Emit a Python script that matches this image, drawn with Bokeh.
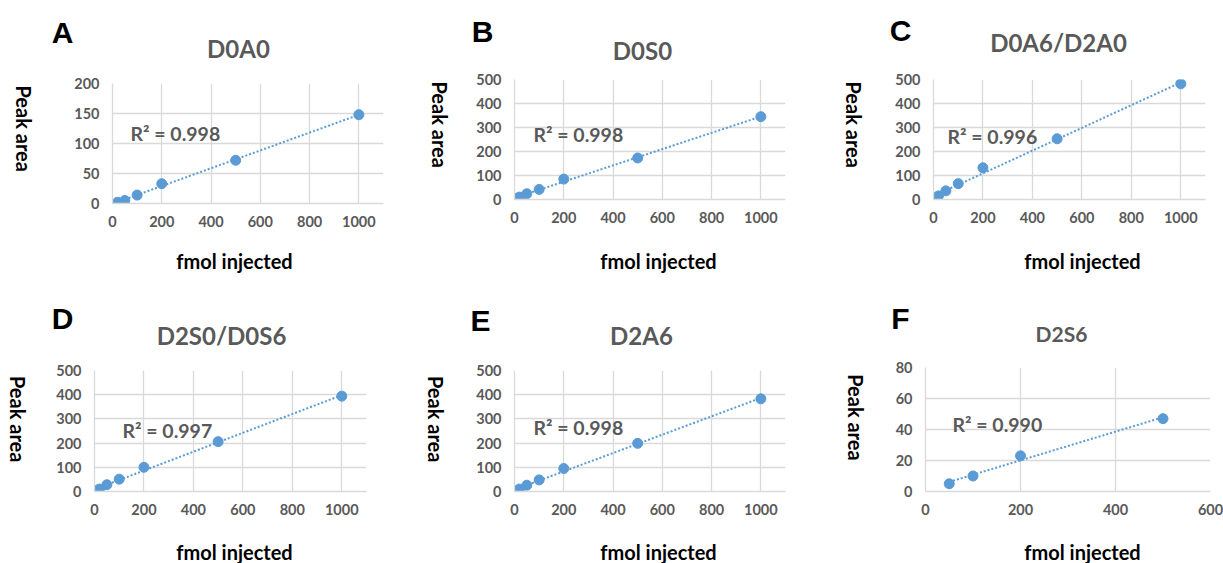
import math
import numpy as np
from bokeh.plotting import figure
from bokeh.layouts import row, column
from bokeh.models import Range1d, FixedTicker, Label
from bokeh.embed import file_html
from bokeh.resources import INLINE

# ---------------- data ----------------
letters = ["A", "B", "C", "D", "E", "F"]
titles = ["D0A0", "D0S0", "D0A6/D2A0", "D2S0/D0S6", "D2A6", "D2S6"]
r2_labels = ["R² = 0.998", "R² = 0.998", "R² = 0.996", "R² = 0.997", "R² = 0.998", "R² = 0.990"]
x_title = "fmol injected"
y_title = "Peak area"

x_A = [20, 50, 100, 200, 500, 1000]
y_A = [2, 5, 14, 33, 72, 148]
x_B = [10, 20, 50, 100, 200, 500, 1000]
y_B = [4, 10, 24, 42, 85, 173, 345]
x_C = [10, 20, 50, 100, 200, 500, 1000]
y_C = [6, 15, 36, 66, 132, 253, 482]
x_D = [10, 20, 50, 100, 200, 500, 1000]
y_D = [4, 10, 28, 51, 100, 206, 394]
x_E = [10, 20, 50, 100, 200, 500, 1000]
y_E = [3, 10, 26, 48, 95, 199, 383]
x_F = [50, 100, 200, 500]
y_F = [5, 10, 23, 47]

xs = [x_A, x_B, x_C, x_D, x_E, x_F]
ys = [y_A, y_B, y_C, y_D, y_E, y_F]

x_ticks_1000 = [0, 200, 400, 600, 800, 1000]
x_ticks_600 = [0, 200, 400, 600]
y_ticks_200 = [0, 50, 100, 150, 200]
y_ticks_500 = [0, 100, 200, 300, 400, 500]
y_ticks_80 = [0, 20, 40, 60, 80]

x_ticks = [x_ticks_1000] * 5 + [x_ticks_600]
x_max = [1100, 1100, 1100, 1100, 1100, 600]
y_ticks = [y_ticks_200, y_ticks_500, y_ticks_500, y_ticks_500, y_ticks_500, y_ticks_80]

# ---------------- layout (page pixels) ----------------
# (offset_x, offset_y, width, height, frame_left, frame_top, frame_right, frame_bottom)
panels = [
    (0, 0, 407, 280, 112, 83, 383, 203),
    (407, 0, 408, 280, 514, 79, 785, 199),
    (815, 0, 408, 280, 933, 79, 1205, 199),
    (0, 280, 407, 283, 94, 370, 366, 491),
    (407, 280, 408, 283, 514, 370, 785, 491),
    (815, 280, 408, 283, 925, 367, 1210, 491),
]
header_h = [66, 66, 66, 73, 73, 73]
left_w = 52
footer_h = 36

letter_pos = [(62, 32), (482, 31), (900, 30), (62, 318), (480, 320), (900, 318)]
title_pos = [(238, 48), (642, 50), (1058, 42), (221, 335), (641, 335), (1061, 333)]
title_size = ["24px", "24px", "24px", "24px", "24px", "21px"]
ylab_pos = [(23, 133), (439, 133), (853, 133), (17, 423), (435, 423), (855, 423)]
xlab_pos = [(234, 260), (658, 260), (1082, 260), (234, 551), (658, 551), (1082, 551)]
r2_pos = [(130, 133), (533, 134), (947, 136), (122, 430), (533, 427), (952, 424)]

BLUE = "#5B9BD5"
GRID = "#D9D9D9"
GRAY = "#595959"
FONT = "Lato"


def blank(w, h):
    f = figure(width=w, height=h, output_backend="svg", toolbar_location=None,
               x_range=Range1d(0, w), y_range=Range1d(0, h),
               x_axis_location=None, y_axis_location=None, min_border=0)
    f.outline_line_color = None
    f.grid.visible = False
    f.background_fill_color = "white"
    f.border_fill_color = "white"
    return f


def add_label(f, txt, x, y, size, color, font, angle=0.0, align="center"):
    f.add_layout(Label(x=x, y=y, text=txt, text_font=font, text_font_style="bold",
                       text_font_size=size, text_color=color, text_align=align,
                       text_baseline="middle", angle=angle))


panel_layouts = []
for i in range(6):
    ox, oy, w, h, fl, ft, fr, fb = panels[i]
    hh = header_h[i]
    hm = h - hh - footer_h

    # header: panel letter + chart title
    head = blank(w, hh)
    add_label(head, letters[i], letter_pos[i][0] - ox, hh - (letter_pos[i][1] - oy),
              "30px", "black", "Liberation Sans")
    add_label(head, titles[i], title_pos[i][0] - ox, hh - (title_pos[i][1] - oy),
              title_size[i], GRAY, FONT)

    # left strip: y-axis title (reads top to bottom)
    left = blank(left_w, hm)
    add_label(left, y_title, ylab_pos[i][0] - ox, (oy + hh + hm) - ylab_pos[i][1],
              "20px", "black", FONT, angle=-math.pi / 2)

    # footer: x-axis title
    foot = blank(w, footer_h)
    add_label(foot, x_title, xlab_pos[i][0] - ox, (oy + h) - xlab_pos[i][1],
              "20px", "black", FONT)

    # main plot
    pw = w - left_w
    p = figure(width=pw, height=hm, output_backend="svg", toolbar_location=None,
               x_range=Range1d(0, x_max[i]), y_range=Range1d(0, y_ticks[i][-1]),
               min_border_left=fl - ox - left_w, min_border_right=ox + w - fr,
               min_border_top=ft - oy - hh, min_border_bottom=(oy + hh + hm) - fb)
    p.outline_line_color = None
    p.background_fill_color = "white"
    p.border_fill_color = "white"

    p.xaxis.ticker = FixedTicker(ticks=x_ticks[i])
    p.yaxis.ticker = FixedTicker(ticks=y_ticks[i])
    p.xgrid.ticker = FixedTicker(ticks=x_ticks[i])
    p.ygrid.ticker = FixedTicker(ticks=y_ticks[i])
    p.xgrid.grid_line_color = GRID
    p.ygrid.grid_line_color = GRID
    p.xgrid.grid_line_width = 1.3
    p.ygrid.grid_line_width = 1.3
    for ax in (p.xaxis, p.yaxis):
        ax.axis_line_color = GRID
        ax.axis_line_width = 1.3
        ax.major_tick_line_color = None
        ax.minor_tick_line_color = None
        ax.major_tick_out = 0
        ax.major_tick_in = 0
        ax.major_label_text_font = FONT
        ax.major_label_text_font_style = "bold"
        ax.major_label_text_font_size = "14.5px"
        ax.major_label_text_color = GRAY
    p.xaxis.major_label_standoff = 12
    p.yaxis.major_label_standoff = 13

    x = np.array(xs[i], dtype=float)
    y = np.array(ys[i], dtype=float)
    m, b = np.polyfit(x, y, 1)
    xl = [x.min(), x.max()]
    yl = [m * xl[0] + b, m * xl[1] + b]
    p.line(xl, yl, line_color=BLUE, line_width=2, line_dash="2 2")
    p.scatter(xs[i], ys[i], size=10, color=BLUE)

    p.add_layout(Label(x=r2_pos[i][0] - fl, y=fb - r2_pos[i][1], x_units="screen", y_units="screen",
                       text=r2_labels[i], text_font=FONT, text_font_style="bold",
                       text_font_size="19.5px", text_color=GRAY, text_align="left",
                       text_baseline="middle"))

    panel_layouts.append(column(head, row(left, p), foot))

layout = column(row(*panel_layouts[:3]), row(*panel_layouts[3:]))
open("out.html", "w").write(file_html(layout, INLINE))
